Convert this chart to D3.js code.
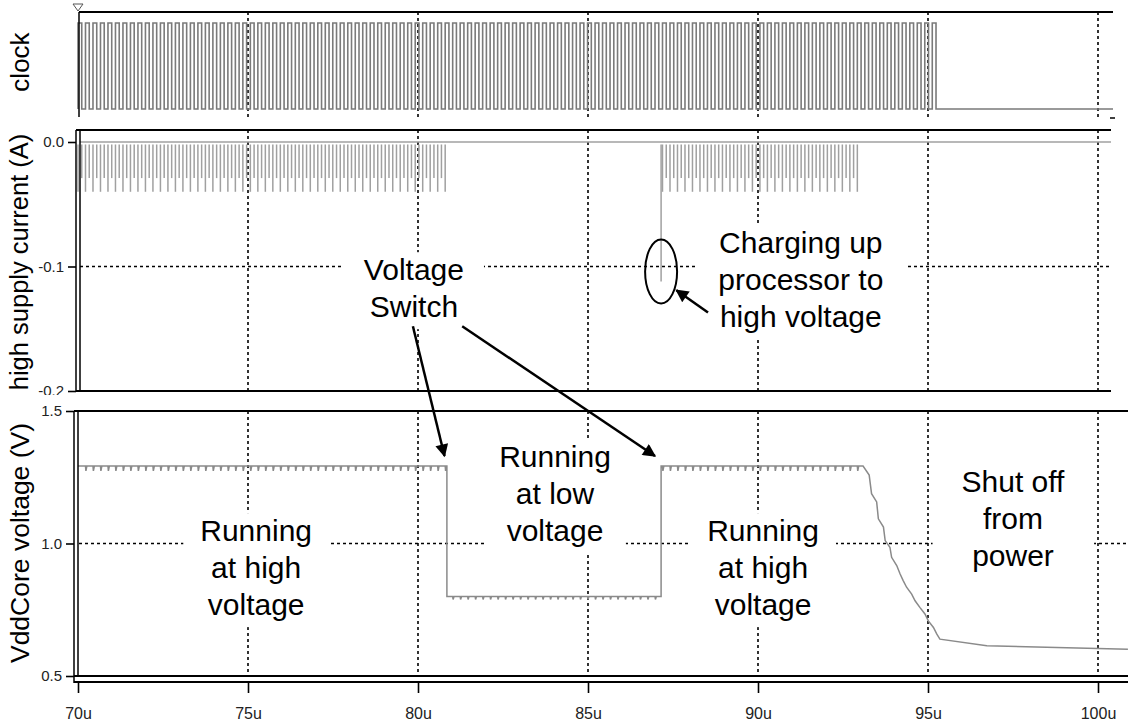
<!DOCTYPE html>
<html>
<head>
<meta charset="utf-8">
<script src="https://cdn.jsdelivr.net/npm/d3@7"></script>
<style>
  body { margin: 0; background: #fff; }
  svg { display: block; font-family: "Liberation Sans", Arial, sans-serif; }
</style>
</head>
<body>
<script>
// time axis (microseconds)
var timeTicks = [70, 75, 80, 85, 90, 95, 100];
var timeLabels = ["70u", "75u", "80u", "85u", "90u", "95u", "100u"];

// clock: square wave
var clockStart = 70, clockStop = 95.24, clockPeriod = 0.2204;

// high supply current (A)
var currentTicks = [0.0, -0.1, -0.2];
var currentLabels = ["0.0", "-0.1", "-0.2"];
var activeWindows = [[70, 80.8], [87.18, 92.94]];
var spikeLong = -0.040, spikeShort = -0.029;
var chargeSpike = [87.15, -0.112];

// VddCore voltage (V)
var voltTicks = [1.5, 1.0, 0.5];
var voltLabels = ["1.5", "1.0", "0.5"];
var highLevel = 1.292, lowLevel = 0.80;
var rippleHigh = 0.018, rippleLow = 0.011;
var switchDown = 80.85, switchUp = 87.15, decayStart = 93.09;
var decayTimes = [93.27, 93.34, 93.49, 93.54, 93.69, 93.74, 93.88, 93.93, 94.08, 94.18,
                  94.27, 94.37, 94.52, 94.62, 94.76, 94.91, 95.01, 95.16, 95.26, 95.35,
                  96.73, 100.88];
var decayVolts = [1.258, 1.188, 1.157, 1.093, 1.062, 1.011, 0.986, 0.948, 0.917, 0.885,
                  0.860, 0.835, 0.809, 0.784, 0.759, 0.734, 0.708, 0.683, 0.658, 0.639,
                  0.614, 0.601];

var W = 1128, H = 722;
var svg = d3.select("body").append("svg").attr("width", W).attr("height", H);

var x = d3.scaleLinear().domain([70, 100]).range([78, 1098]);
var yClk = d3.scaleLinear().domain([0, 1]).range([109, 23]);
var yCur = d3.scaleLinear().domain([-0.2, 0]).range([391, 142]);
var yVdd = d3.scaleLinear().domain([0.5, 1.5]).range([676, 411]);

var line = d3.line().x(function(d) { return x(d[0]); });

// arrow head
svg.append("defs").append("marker")
    .attr("id", "head")
    .attr("markerUnits", "userSpaceOnUse")
    .attr("viewBox", "0 0 10 10")
    .attr("refX", 9).attr("refY", 5)
    .attr("markerWidth", 15).attr("markerHeight", 13)
    .attr("orient", "auto")
  .append("path").attr("d", "M0,0 L10,5 L0,10 z").attr("fill", "#000");

svg.select("defs").append("clipPath").attr("id", "curClip")
  .append("rect").attr("x", 0).attr("y", 120).attr("width", W).attr("height", 275);

function grid(g, y0, y1) {
    g.selectAll(".vgrid")
        .data(timeTicks.slice(1))
        .enter().append("line")
        .attr("x1", function(d) { return x(d); })
        .attr("x2", function(d) { return x(d); })
        .attr("y1", y0).attr("y2", y1)
        .attr("stroke", "#000").attr("stroke-width", 1.6)
        .attr("stroke-dasharray", "3,3");
}

function hline(g, x1, x2, y, w) {
    g.append("line").attr("x1", x1).attr("x2", x2).attr("y1", y).attr("y2", y)
        .attr("stroke", "#000").attr("stroke-width", w || 2);
}
function vline(g, xx, y1, y2, w) {
    g.append("line").attr("x1", xx).attr("x2", xx).attr("y1", y1).attr("y2", y2)
        .attr("stroke", "#000").attr("stroke-width", w || 2);
}

function title(g, txt, cx, cy, size) {
    g.append("text")
        .attr("transform", "translate(" + cx + "," + cy + ") rotate(-90)")
        .attr("text-anchor", "middle")
        .attr("font-size", size)
        .attr("fill", "#000")
        .text(txt);
}

// annotation text with white box behind it
function note(g, lines, cx, baseY, pad) {
    var lh = 37;
    var t = g.append("g");
    var box = t.append("rect").attr("fill", "#fff");
    var txt = t.append("text")
        .attr("text-anchor", "middle")
        .attr("font-size", 30)
        .attr("fill", "#000");
    lines.forEach(function(s, i) {
        txt.append("tspan").attr("x", cx).attr("y", baseY + i * lh).text(s);
    });
    var bb = txt.node().getBBox();
    box.attr("x", bb.x - pad).attr("width", bb.width + 2 * pad)
        .attr("y", baseY - 28).attr("height", (lines.length - 1) * lh + 40);
}

function styleAxis(a, size) {
    a.select(".domain").remove();
    a.selectAll("line").attr("stroke", "#000").attr("stroke-width", 1.6);
    a.selectAll("text").attr("fill", "#222").style("font-size", size + "px")
        .style("font-family", "'Liberation Sans', Arial, sans-serif");
}

// ---------------- clock panel ----------------
var gClk = svg.append("g");
grid(gClk, 12, 118);

var clk = [[clockStart, 0]];
for (var i = 0; clockStart + (i + 0.5) * clockPeriod <= clockStop + 1e-6; i++) {
    var t = clockStart + i * clockPeriod;
    clk.push([t, 0], [t, 1], [t + clockPeriod / 2, 1], [t + clockPeriod / 2, 0]);
}
clk.push([x.invert(1113), 0]);

gClk.append("path")
    .datum(clk)
    .attr("d", line.y(function(d) { return yClk(d[1]); }))
    .attr("fill", "none")
    .attr("stroke", "#7a7a7a")
    .attr("stroke-width", 1.6);

hline(gClk, 79, 1113, 12, 2);
vline(gClk, 79, 12, 117, 1.5);
gClk.append("path").attr("d", "M73,4 L83,4 L78,11 Z")
    .attr("fill", "none").attr("stroke", "#555").attr("stroke-width", 1);
hline(gClk, 1110, 1115, 118, 1.5);
title(gClk, "clock", 29, 62, 26);

// ---------------- current panel ----------------
var gCur = svg.append("g").attr("clip-path", "url(#curClip)");
grid(gCur, 130, 391);
gCur.append("line")
    .attr("x1", 80).attr("x2", 1111)
    .attr("y1", yCur(-0.1)).attr("y2", yCur(-0.1))
    .attr("stroke", "#000").attr("stroke-width", 1.6).attr("stroke-dasharray", "3,3");

note(gCur, ["Voltage", "Switch"], x(79.88), yCur(-0.111), 20);
note(gCur, ["Charging up", "processor to", "high voltage"], x(91.26), yCur(-0.089), 22);

var spikes = [];
for (var k = 0; clockStart + k * clockPeriod < clockStop; k++) {
    var tc = clockStart + k * clockPeriod;
    activeWindows.forEach(function(w) {
        if (tc >= w[0] && tc <= w[1]) {
            spikes.push([tc, spikeLong]);
            if (tc + clockPeriod / 2 <= w[1]) spikes.push([tc + clockPeriod / 2, spikeShort]);
        }
    });
}
spikes.push(chargeSpike);

gCur.append("line")
    .attr("x1", 80).attr("x2", 1111)
    .attr("y1", yCur(0)).attr("y2", yCur(0))
    .attr("stroke", "#a0a0a0").attr("stroke-width", 1.5);

gCur.selectAll(".spike")
    .data(spikes)
    .enter().append("line")
    .attr("x1", function(d) { return x(d[0]); })
    .attr("x2", function(d) { return x(d[0]); })
    .attr("y1", yCur(-0.002))
    .attr("y2", function(d) { return yCur(d[1]); })
    .attr("stroke", "#a0a0a0")
    .attr("stroke-width", 1.5);

hline(gCur, 76, 1111, 130, 2);
hline(gCur, 76, 1111, 391, 2);
vline(gCur, 76, 130, 392, 1.5);
vline(gCur, 80, 130, 392, 1.5);

var curAxis = d3.axisLeft(yCur)
    .tickValues(currentTicks)
    .tickFormat(function(d, i) { return currentLabels[i]; })
    .tickSize(8).tickSizeOuter(0).tickPadding(4);
gCur.append("g")
    .attr("transform", "translate(76,0)")
    .call(curAxis)
    .call(styleAxis, 15);

title(gCur, "high supply current (A)", 28, 262, 25.5);

// ellipse + arrow around charging spike
gCur.append("ellipse")
    .attr("cx", x(chargeSpike[0])).attr("cy", yCur(-0.104))
    .attr("rx", 16).attr("ry", 32)
    .attr("fill", "none").attr("stroke", "#000").attr("stroke-width", 2);
gCur.append("line")
    .attr("x1", x(88.53)).attr("y1", yCur(-0.137))
    .attr("x2", x(87.6)).attr("y2", yCur(-0.119))
    .attr("stroke", "#000").attr("stroke-width", 2.5)
    .attr("marker-end", "url(#head)");

// ---------------- voltage panel ----------------
var gV = svg.append("g");
grid(gV, 411, 676);
gV.append("line")
    .attr("x1", 79).attr("x2", 1128)
    .attr("y1", yVdd(1.0)).attr("y2", yVdd(1.0))
    .attr("stroke", "#000").attr("stroke-width", 1.6).attr("stroke-dasharray", "3,3");

note(gV, ["Running", "at high", "voltage"], x(75.24), yVdd(1.009), 17);
note(gV, ["Running", "at low", "voltage"], x(84.03), yVdd(1.289), 15);
note(gV, ["Running", "at high", "voltage"], x(90.15), yVdd(1.009), 17);
note(gV, ["Shut off", "from", "power"], x(97.5), yVdd(1.194), 29);

function plateau(pts, t0, t1, v, dip) {
    for (var j = 0; clockStart + j * clockPeriod < t1; j++) {
        var te = clockStart + j * clockPeriod;
        if (te <= t0) continue;
        pts.push([te, v], [te + 0.012, v - dip], [te + 0.04, v]);
    }
    pts.push([t1, v]);
}

var vdd = [[70, highLevel]];
plateau(vdd, 70, switchDown, highLevel, rippleHigh);
vdd.push([switchDown, lowLevel]);
plateau(vdd, switchDown, switchUp, lowLevel, rippleLow);
vdd.push([switchUp, highLevel]);
plateau(vdd, switchUp, decayStart, highLevel, rippleHigh);
decayTimes.forEach(function(t, i) { vdd.push([t, decayVolts[i]]); });

gV.append("path")
    .datum(vdd)
    .attr("d", line.y(function(d) { return yVdd(d[1]); }))
    .attr("fill", "none")
    .attr("stroke", "#8a8a8a")
    .attr("stroke-width", 1.5);

hline(gV, 74, 1128, 411, 2);
hline(gV, 74, 1128, 676, 2);
hline(gV, 74, 1128, 682, 2);
vline(gV, 74, 411, 683, 1.5);
vline(gV, 78, 411, 677, 1.5);

var vAxis = d3.axisLeft(yVdd)
    .tickValues(voltTicks)
    .tickFormat(function(d, i) { return voltLabels[i]; })
    .tickSize(8).tickSizeOuter(0).tickPadding(4);
gV.append("g")
    .attr("transform", "translate(74,0)")
    .call(vAxis)
    .call(styleAxis, 15);

var xAxis = d3.axisBottom(x)
    .tickValues(timeTicks)
    .tickFormat(function(d, i) { return timeLabels[i]; })
    .tickSize(11).tickSizeOuter(0).tickPadding(15);
gV.append("g")
    .attr("transform", "translate(0,682)")
    .call(xAxis)
    .call(styleAxis, 16);

title(gV, "VddCore voltage (V)", 29, 543, 26.5);

// arrows from "Voltage Switch"
svg.append("line")
    .attr("x1", x(79.85)).attr("y1", yCur(-0.148))
    .attr("x2", x(80.78)).attr("y2", yVdd(1.33))
    .attr("stroke", "#000").attr("stroke-width", 2.5)
    .attr("marker-end", "url(#head)");
svg.append("line")
    .attr("x1", x(81.3)).attr("y1", yCur(-0.148))
    .attr("x2", x(86.97)).attr("y2", yVdd(1.33))
    .attr("stroke", "#000").attr("stroke-width", 2.5)
    .attr("marker-end", "url(#head)");
</script>
</body>
</html>
